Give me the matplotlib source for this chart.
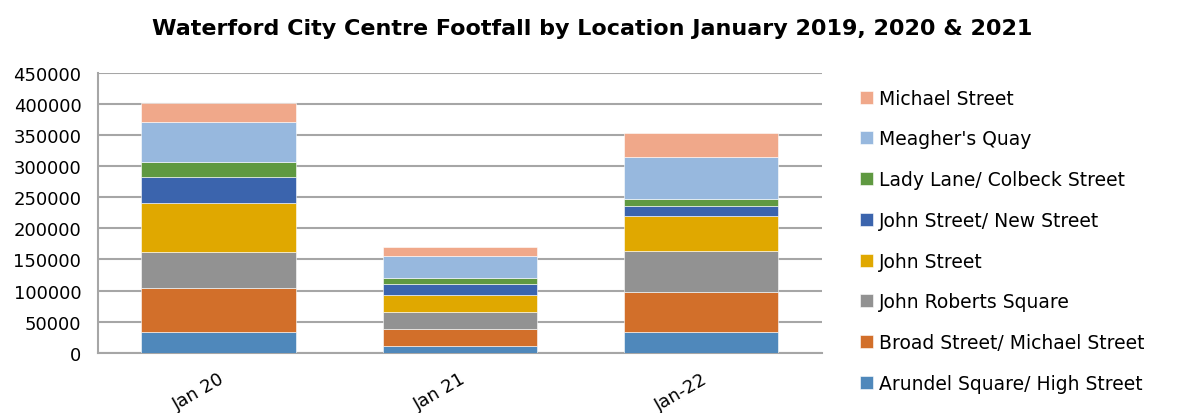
import numpy as np
import matplotlib.pyplot as plt

months = ["Jan 20", "Jan 21", "Jan-22"]

locations = ["Arundel Square/ High Street", "Broad Street/ Michael Street",
             "John Roberts Square", "John Street", "John Street/ New Street",
             "Lady Lane/ Colbeck Street", "Meagher's Quay", "Michael Street"]

arundel = [33300, 11300, 32700]
broad = [70300, 26300, 65400]
john_roberts = [57900, 28400, 66000]
john_st = [79900, 26300, 55200]
john_new = [41300, 17700, 17200]
lady_lane = [24700, 9700, 10700]
meaghers = [63800, 35400, 68100]
michael = [30600, 14500, 37500]

series = [arundel, broad, john_roberts, john_st, john_new, lady_lane, meaghers, michael]
colors = ["#4f88bb", "#d26f2a", "#929292", "#e0a800", "#3b64ad", "#5f9941",
          "#97b8de", "#f0a88a"]

fig = plt.figure(figsize=(11.84, 4.14), dpi=100)
ax = fig.add_axes([0.0828, 0.1457, 0.6112, 0.6755])

x = np.arange(len(months))
bottom = np.zeros(len(months))
handles = []
for vals, col, name in zip(series, colors, locations):
    b = ax.bar(x, vals, width=0.64, bottom=bottom, color=col, label=name,
               edgecolor="white", linewidth=0.4, zorder=3)
    handles.append(b)
    bottom += np.array(vals)

ax.set_xlim(-0.5, 2.5)
ax.set_ylim(0, 450000)
ax.set_yticks(np.arange(0, 450001, 50000))
ax.set_yticklabels([str(v) for v in range(0, 450001, 50000)], fontsize=13)
ax.yaxis.grid(True, color="#a6a6a6", linewidth=1.5, zorder=0)
ax.tick_params(axis="y", length=0, pad=12)
ax.tick_params(axis="x", length=0, pad=12)
ax.set_xticks(x)
ax.set_xticklabels(months, fontsize=13, rotation=30, ha="right",
                   rotation_mode="anchor")
for s in ["top", "right"]:
    ax.spines[s].set_visible(False)
for s in ["left", "bottom"]:
    ax.spines[s].set_color("#a6a6a6")
    ax.spines[s].set_linewidth(1.5)

fig.suptitle("Waterford City Centre Footfall by Location January 2019, 2020 & 2021",
             fontsize=16, fontweight="bold", x=0.5, y=0.955)

fig.legend(handles[::-1], locations[::-1], loc="upper left",
           bbox_to_anchor=(0.712, 0.824), frameon=False, fontsize=13.5,
           handlelength=0.7, handleheight=0.7, labelspacing=1.16,
           handletextpad=0.3)

fig.savefig("out.png", dpi=100)
